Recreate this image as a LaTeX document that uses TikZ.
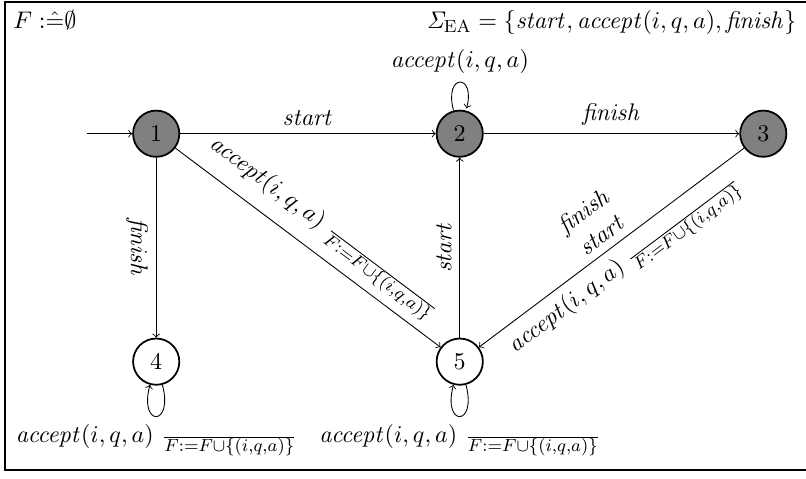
\documentclass[11pt,tikz,border=0pt]{standalone}
\usetikzlibrary{positioning}
\tikzset{
  loc/.style={circle, draw, thick, minimum size=7.4mm, inner sep=0pt},
  marked/.style={loc, fill=black!50},
  flow/.style={->},
  frame/.style={draw, thick},
  lowloop/.style={out=-75, in=-105, loop, every loop/.style={min distance=7mm}},
}
\newcommand{\ev}[1]{\mathit{#1}}
\newcommand{\acc}{\mathit{accept}(i,q,a)}
\newcommand{\addF}{\frac{}{F:=F\cup\{(i,q,a)\}}}

\begin{document}
\begin{tikzpicture}[node distance=2.88cm and 4.09cm]
    \useasboundingbox (-2.50,2.14) rectangle (10.40,-5.52);
    \coordinate (nw) at (-2.42,2.11);
    \coordinate (ne) at (10.38,2.11);
    \coordinate (se) at (10.50,-5.38);
    \draw[frame] (nw) rectangle (se);
    \node[anchor=north west] (fdef) at (nw) {$F\;{:}{\hat{=}}\emptyset$};
    \node[anchor=north east] (alph) at (ne)
      {$\mathit{\Sigma}_{\mathrm{EA}}=\{\ev{start},\acc,\ev{finish}\}$};
    % locations
    \node[marked] (n1) at (0,0) {1};
    \node[marked, right=of n1] (n2) {2};
    \node[marked, right=of n2] (n3) {3};
    \node[loc, below=of n1] (n4) {4};
    \node[loc, below=of n2] (n5) {5};
    \coordinate[left=0.72cm of n1] (in);
    % transitions
    \draw[flow] (in) -- (n1);
    \draw[flow] (n1) -- node[above] {$\ev{start}$} (n2);
    \draw[flow] (n2) -- node[above] {$\ev{finish}$} (n3);
    \path (n2) edge[flow, loop above] node {$\acc$} ();
    \draw[flow] (n1) -- node[below, sloped] {$\ev{finish}$} (n4);
    \draw[flow] (n1) -- node[above, sloped] {$\acc\ \addF$} (n5);
    \draw[flow] (n5) -- node[above, sloped] {$\ev{start}$} (n2);
    \draw[flow] (n3) -- node[above, sloped, align=center] {$\ev{finish}$\\$\ev{start}$}
      node[below, sloped] {$\acc\ \addF$} (n5);
    \path (n4) edge[flow, lowloop] node[below] {$\acc\ \addF$} ();
    \path (n5) edge[flow, lowloop] node[below] {$\acc\ \addF$} ();
  \end{tikzpicture}
\end{document}
